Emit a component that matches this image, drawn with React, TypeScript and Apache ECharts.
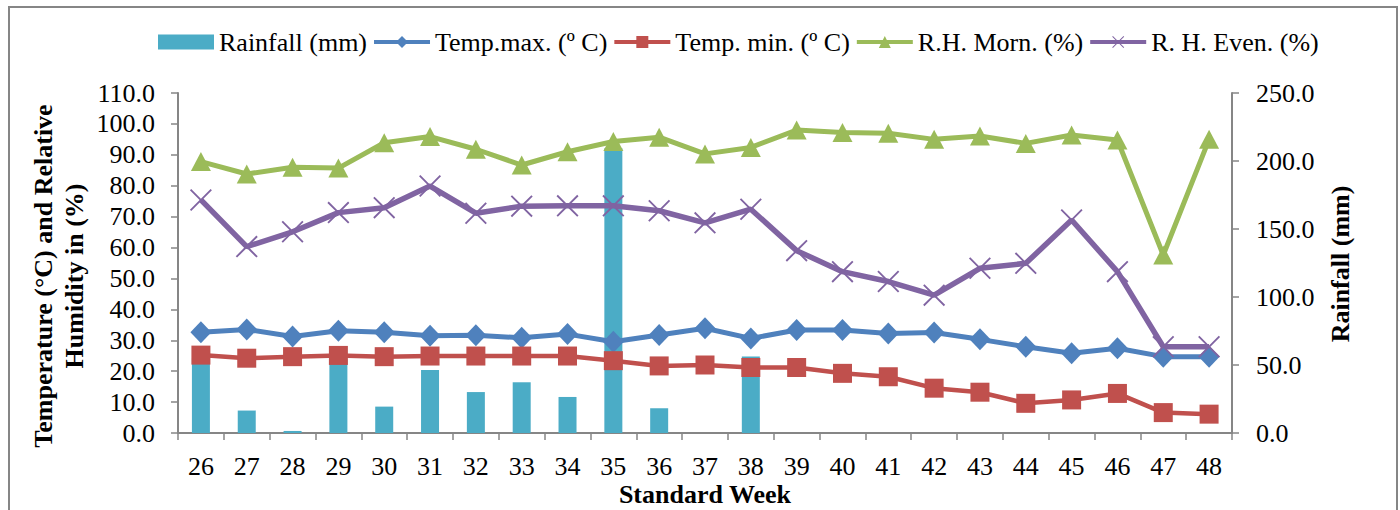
import React, { useEffect, useRef } from "react";
import * as echarts from "echarts";

const weeks = ["26","27","28","29","30","31","32","33","34","35","36","37","38","39","40","41","42","43","44","45","46","47","48"];
const rainfall = [55, 16.5, 1.5, 54, 19.4, 46.3, 30.1, 37.3, 26.5, 209.3, 18.2, 0, 56.3, 0, 0, 0, 0, 0, 0, 0, 0, 0, 0];
const tempMax = [32.6, 33.5, 31.2, 33.1, 32.6, 31.5, 31.6, 30.8, 32.0, 29.5, 31.7, 33.9, 30.6, 33.3, 33.3, 32.2, 32.5, 30.3, 27.9, 25.8, 27.4, 24.7, 24.7];
const tempMin = [25.2, 24.2, 24.7, 25.1, 24.7, 24.9, 24.9, 24.9, 24.9, 23.4, 21.7, 22.0, 21.2, 21.2, 19.3, 18.2, 14.5, 13.2, 9.6, 10.7, 12.8, 6.6, 6.1];
const rhMorn = [87.8, 83.8, 86.0, 85.7, 93.9, 95.9, 91.8, 86.7, 91.0, 94.3, 95.7, 90.3, 92.4, 98.0, 97.2, 97.0, 95.0, 96.1, 93.7, 96.4, 94.8, 57.6, 95.0];
const rhEven = [75.4, 60.3, 65.1, 71.3, 72.9, 79.9, 71.1, 73.4, 73.5, 73.5, 71.9, 68.0, 72.4, 59.0, 52.2, 49.0, 44.6, 53.3, 54.9, 68.9, 52.2, 27.9, 27.9];

const FONT = "Liberation Serif";
const AXIS_GREY = "#868686";
const X_PATH = "path://M0,1.2 L1.2,0 L10,8.8 L18.8,0 L20,1.2 L11.2,10 L20,18.8 L18.8,20 L10,11.2 L1.2,20 L0,18.8 L8.8,10 Z";

export default function App() {
  const ref = useRef<HTMLDivElement>(null);
  useEffect(() => {
    if (!ref.current) return;
    const chart = echarts.init(ref.current, undefined, { renderer: "svg" });
    const names = ["Rainfall (mm)", "Temp.max. (º C)", "Temp. min. (º C)", "R.H. Morn. (%)", "R. H. Even. (%)"];
    chart.setOption({
      animation: false,
      backgroundColor: "#ffffff",
      textStyle: { fontFamily: FONT },
      legend: {
        left: 153,
        top: 24,
        itemWidth: 56,
        itemHeight: 15,
        itemGap: 5,
        lineStyle: { width: 4 },
        textStyle: { fontFamily: FONT, fontSize: 26, color: "#000" },
        data: [
          { name: names[0], icon: "rect" },
          names[1], names[2], names[3], names[4],
        ],
      },
      grid: { left: 178, right: 168, top: 93, bottom: 77, containLabel: false, outerBoundsMode: "none" },
      xAxis: {
        type: "category",
        data: weeks,
        boundaryGap: true,
        axisLine: { lineStyle: { color: AXIS_GREY, width: 2 } },
        axisTick: { show: true, alignWithLabel: false, length: 7, lineStyle: { color: AXIS_GREY, width: 1.5 } },
        axisLabel: { fontFamily: FONT, fontSize: 26, color: "#000", margin: 20, interval: 0 },
      },
      yAxis: [
        {
          type: "value",
          min: 0,
          max: 110,
          interval: 10,
          position: "left",
          splitLine: { show: false },
          axisLine: { show: true, lineStyle: { color: AXIS_GREY, width: 2 } },
          axisTick: { show: true, length: 7, lineStyle: { color: AXIS_GREY, width: 1.5 } },
          axisLabel: { fontFamily: FONT, fontSize: 26, color: "#000", margin: 23, formatter: (v: number) => v.toFixed(1) },
        },
        {
          type: "value",
          min: 0,
          max: 250,
          interval: 50,
          position: "right",
          splitLine: { show: false },
          axisLine: { show: true, lineStyle: { color: AXIS_GREY, width: 2 } },
          axisTick: { show: true, length: 7, lineStyle: { color: AXIS_GREY, width: 1.5 } },
          axisLabel: { fontFamily: FONT, fontSize: 26, color: "#000", margin: 24, formatter: (v: number) => v.toFixed(1) },
        },
      ],
      graphic: [
        {
          type: "rect",
          shape: { x: 9, y: 7, width: 1388, height: 520 },
          style: { fill: "none", stroke: AXIS_GREY, lineWidth: 2 },
          silent: true,
        },
        {
          type: "text",
          x: 59,
          y: 276,
          rotation: Math.PI / 2,
          style: {
            text: "Temperature (°C) and Relative\nHumidity in (%)",
            fontFamily: FONT,
            fontSize: 26,
            fontWeight: "bold",
            fill: "#000",
            align: "center",
            verticalAlign: "middle",
            lineHeight: 31,
          },
        },
        {
          type: "text",
          x: 1340,
          y: 264,
          rotation: Math.PI / 2,
          style: {
            text: "Rainfall (mm)",
            fontFamily: FONT,
            fontSize: 26,
            fontWeight: "bold",
            fill: "#000",
            align: "center",
            verticalAlign: "middle",
          },
        },
        {
          type: "text",
          x: 705,
          y: 494,
          style: {
            text: "Standard Week",
            fontFamily: FONT,
            fontSize: 26,
            fontWeight: "bold",
            fill: "#000",
            align: "center",
            verticalAlign: "middle",
          },
        },
      ],
      series: [
        {
          name: names[0],
          type: "bar",
          yAxisIndex: 1,
          data: rainfall,
          barWidth: 18,
          itemStyle: { color: "#4BACC6" },
          z: 1,
        },
        {
          name: names[1],
          type: "line",
          yAxisIndex: 0,
          data: tempMax,
          symbol: "diamond",
          symbolSize: [21, 22],
          lineStyle: { color: "#4F81BD", width: 5 },
          itemStyle: { color: "#4F81BD" },
          z: 3,
        },
        {
          name: names[2],
          type: "line",
          yAxisIndex: 0,
          data: tempMin,
          symbol: "rect",
          symbolSize: 19,
          lineStyle: { color: "#C0504D", width: 4.5 },
          itemStyle: { color: "#C0504D" },
          z: 3,
        },
        {
          name: names[3],
          type: "line",
          yAxisIndex: 0,
          data: rhMorn,
          symbol: "triangle",
          symbolSize: [20, 19],
          lineStyle: { color: "#9BBB59", width: 5 },
          itemStyle: { color: "#9BBB59" },
          z: 3,
        },
        {
          name: names[4],
          type: "line",
          yAxisIndex: 0,
          data: rhEven,
          symbol: X_PATH,
          symbolSize: 22,
          lineStyle: { color: "#8064A2", width: 5.5 },
          itemStyle: { color: "#8064A2" },
          z: 3,
        },
      ],
    });
    return () => chart.dispose();
  }, []);
  return (
    <div
      ref={ref}
      style={{ position: "fixed", left: 0, top: 0, width: 1400, height: 510 }}
    />
  );
}
